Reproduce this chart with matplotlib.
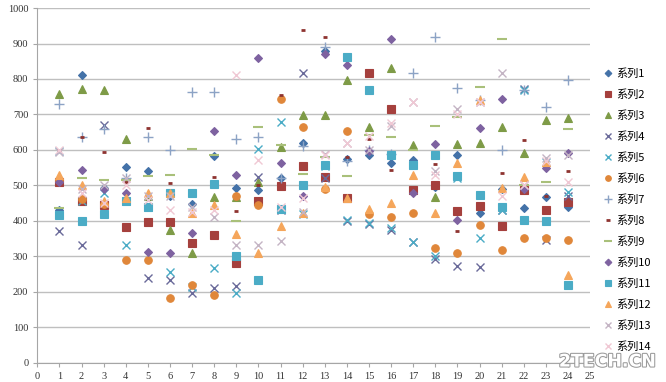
import matplotlib
matplotlib.use("Agg")
import matplotlib.pyplot as plt
import matplotlib.patheffects as pe

x = list(range(1, 25))

s1 = [430, 811, 493, 552, 541, 470, 448, 583, 493, 487, 521, 620, 880, 575, 587, 563, 572, 495, 586, 422, 490, 437, 468, 440]
s2 = [510, 455, 445, 383, 397, 397, 338, 360, 282, 455, 499, 555, 524, 465, 817, 716, 487, 501, 428, 442, 386, 487, 431, 453]
s3 = [758, 772, 770, 630, 470, 375, 310, 468, 468, 510, 608, 699, 699, 797, 665, 831, 614, 468, 617, 620, 665, 592, 685, 690]
s4 = [372, 332, 670, 455, 240, 233, 197, 212, 217, 524, 430, 817, 520, 400, 390, 375, 341, 293, 273, 270, 430, 772, 345, 470]
s5 = [598, 455, 480, 333, 440, 257, 215, 268, 197, 603, 680, 420, 555, 403, 395, 380, 341, 300, 520, 352, 430, 768, 565, 482]
s6 = [515, 462, 447, 290, 290, 183, 220, 190, 470, 445, 744, 665, 490, 654, 420, 411, 422, 324, 310, 389, 318, 352, 352, 346]
s7 = [730, 637, 660, 520, 637, 600, 763, 763, 631, 637, 520, 612, 890, 570, 600, 590, 817, 918, 775, 740, 600, 770, 721, 797]
s8 = [600, 637, 594, 510, 662, 507, 470, 524, 429, 500, 755, 938, 918, 580, 630, 544, 520, 560, 372, 470, 535, 628, 470, 541]
s9 = [437, 522, 515, 515, 527, 530, 603, 585, 400, 665, 615, 533, 580, 527, 643, 637, 600, 668, 693, 778, 913, 500, 510, 659]
s10 = [510, 543, 490, 479, 312, 310, 367, 653, 530, 858, 563, 470, 870, 840, 597, 913, 478, 617, 403, 662, 744, 490, 549, 592]
s11 = [417, 400, 420, 455, 440, 478, 479, 504, 300, 234, 433, 501, 558, 862, 769, 587, 558, 587, 527, 473, 440, 403, 400, 220]
s12 = [530, 500, 455, 465, 480, 480, 422, 445, 363, 310, 386, 423, 496, 465, 435, 450, 530, 422, 563, 741, 493, 524, 566, 248]
s13 = [595, 490, 500, 520, 470, 470, 440, 411, 332, 332, 344, 425, 590, 620, 600, 668, 735, 541, 715, 735, 817, 500, 578, 585]
s14 = [600, 480, 450, 500, 460, 430, 425, 430, 810, 572, 440, 465, 585, 620, 640, 675, 735, 530, 700, 735, 470, 500, 570, 510]

names = ["系列1", "系列2", "系列3", "系列4", "系列5", "系列6", "系列7",
         "系列8", "系列9", "系列10", "系列11", "系列12", "系列13", "系列14"]
series = [s1, s2, s3, s4, s5, s6, s7, s8, s9, s10, s11, s12, s13, s14]

styles = [
    dict(marker="D", color="#4472A8", ms=4.5),
    dict(marker="s", color="#A5403D", ms=5.2),
    dict(marker="^", color="#7E9B47", ms=5.8),
    dict(marker="x", color="#6A6A9A", ms=5.8, mew=1.0),
    dict(marker="x", color="#4BACC6", ms=5.8, mew=1.0),
    dict(marker="o", color="#E0873A", ms=5.4),
    dict(marker="+", color="#8CA3C5", ms=7, mew=1.0),
    dict(marker="_", color="#8E3330", ms=3.5, mew=2.0),
    dict(marker="_", color="#A9C07A", ms=7, mew=1.5),
    dict(marker="D", color="#7E62A0", ms=4.5),
    dict(marker="s", color="#4BACC6", ms=5.2),
    dict(marker="^", color="#F5A65B", ms=5.8),
    dict(marker="x", color="#C4B4C4", ms=5.8, mew=1.0),
    dict(marker="x", color="#F0C8D4", ms=5.8, mew=1.0),
]

fig = plt.figure(figsize=(6.66, 3.82), dpi=100)
ax = fig.add_axes([0.056, 0.05, 0.83, 0.929])

handles = []
for name, vals, st in zip(names, series, styles):
    h, = ax.plot(x, vals, linestyle="none", marker=st["marker"],
                 color=st["color"], markersize=st["ms"],
                 markeredgewidth=st.get("mew", 0.8), label=name, zorder=3)
    handles.append(h)

ax.set_xlim(0, 25)
ax.set_ylim(0, 1000)
ax.set_xticks(range(0, 26))
ax.set_yticks(range(0, 1001, 100))
ax.yaxis.grid(True, color="#BFBFBF", linewidth=1.0)
ax.set_axisbelow(True)
for sp in ["top", "right"]:
    ax.spines[sp].set_visible(False)
for sp in ["left", "bottom"]:
    ax.spines[sp].set_color("#A6A6A6")
ax.tick_params(axis="both", colors="#A6A6A6", length=3, labelcolor="#333333", labelsize=7.5)
for lab in ax.get_xticklabels() + ax.get_yticklabels():
    lab.set_family("Liberation Serif")

leg = fig.legend(handles=handles, labels=names, loc="center left",
                 bbox_to_anchor=(0.9, 0.45), frameon=False,
                 prop={"family": ["Noto Sans CJK SC", "DejaVu Sans"], "size": 8},
                 labelspacing=0.93, handlelength=0.8, handletextpad=0.3,
                 markerscale=0.75, borderaxespad=0)

fig.text(0.985, 0.03, "2TECH.CN", ha="right", va="bottom", fontsize=12.5,
         fontweight="bold", color="white", family="DejaVu Sans",
         path_effects=[pe.withStroke(linewidth=1.5, foreground="#9A9A9A")])

fig.savefig("out.png", dpi=100)
